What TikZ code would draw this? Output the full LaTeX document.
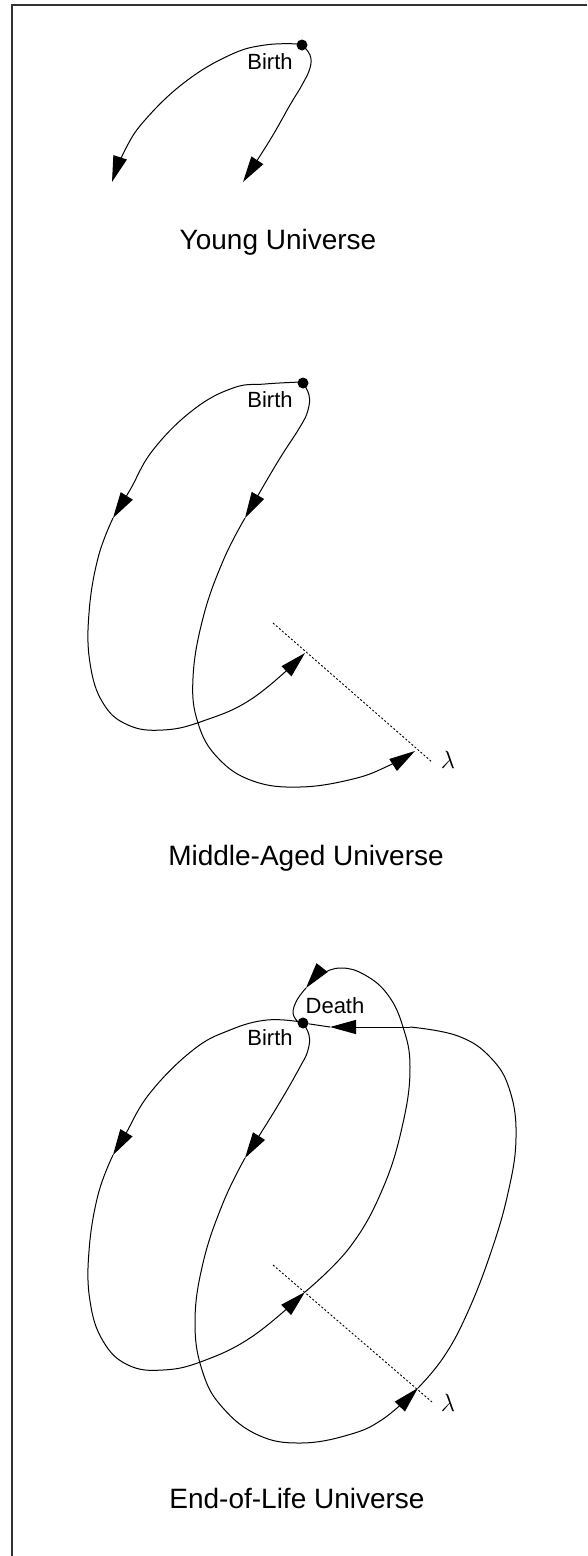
\documentclass[tikz,border=0pt]{standalone}
\usepackage{fontspec}
\setmainfont{Liberation Sans}
\usetikzlibrary{arrows.meta,positioning}

\tikzset{
  orbit/.style={line width=1pt},
  arr/.style={orbit, -{Triangle[length=26pt,width=14pt]}},
  dotpt/.style={circle, fill, inner sep=0pt, minimum size=11pt},
  lbl/.style={font=\fontsize{22}{26}\selectfont},
  title/.style={font=\fontsize{28}{32}\selectfont},
  axis/.style={line width=0.9pt, dash pattern=on 2pt off 2pt}
}

\begin{document}
\begin{tikzpicture}[x=1pt,y=1pt]
  \useasboundingbox (0,0) rectangle (587,-1556);
  % frame
  \draw[line width=2pt, black!80] (12,-1556) -- (12,-5) -- (587,-5);

  % Young universe
  \begin{scope}[shift={(302,-45)}]
    \node[dotpt] (birth1) at (0,0) {};
    \draw[arr] plot[smooth, tension=0.7]
      coordinates{(-2,1) (-37,0) (-72,-10) (-117,-37) (-157,-75) (-177,-105) (-190,-137)};
    \draw[arr] plot[smooth, tension=0.7]
      coordinates{(0,0) (8,-10) (8,-23) (0,-40) (-12,-60) (-32,-95) (-59,-137)};
    \node[lbl] (birthlbl1) at (-32,-17) {Birth};
    \node[title] (young) at (-24,-197) {Young Universe};
  \end{scope}

  % Middle-aged universe
  \begin{scope}[shift={(303,-383)}]
    \node[dotpt] (birth2) at (0,0) {};
    \draw[arr] plot[smooth, tension=0.7]
      coordinates{(-2,1) (-38,-1) (-70,-5) (-110,-27) (-150,-67) (-173,-107) (-190,-135)};
    \draw[arr] plot[smooth, tension=0.7]
      coordinates{(-190,-135) (-205,-175) (-214,-230) (-213,-280) (-200,-320) (-175,-342)
        (-140,-347) (-100,-338) (-50,-315) (2,-270)};
    \draw[arr] plot[smooth, tension=0.7]
      coordinates{(0,0) (6,-12) (5,-27) (-3,-44) (-26,-80) (-58,-135)};
    \draw[arr] plot[smooth, tension=0.7]
      coordinates{(-58,-135) (-80,-178) (-100,-235) (-110,-295) (-105,-340) (-85,-375)
        (-50,-398) (-3,-404) (50,-396) (85,-383) (112,-368)};
    \coordinate (ax2a) at (-30,-240);
    \coordinate (ax2b) at (129,-379);
    \draw[axis] (ax2a) -- (ax2b);
    \node[font=\fontsize{24}{28}\selectfont] (lambda2) at (145,-377) {$\lambda$};
    \node[lbl] (birthlbl2) at (-33,-17) {Birth};
    \node[title] (middle) at (3,-475) {Middle-Aged Universe};
  \end{scope}

  % End-of-life universe
  \begin{scope}[shift={(303,-1023)}]
    \node[dotpt] (birth3) at (0,0) {};
    \draw[arr] plot[smooth, tension=0.7]
      coordinates{(-2,1) (-36,3) (-73,-7) (-110,-27) (-153,-70) (-178,-112) (-190,-132)};
    \draw[arr] plot[smooth, tension=0.7]
      coordinates{(-190,-132) (-205,-172) (-214,-228) (-213,-278) (-200,-318) (-175,-342)
        (-140,-347) (-100,-338) (-50,-313) (2,-269)};
    \draw[arr] plot[smooth, tension=0.7]
      coordinates{(2,-269) (47,-224) (80,-165) (100,-100) (107,-44) (100,-4) (85,28)
        (62,48) (38,55) (17,48) (3,35)};
    \draw[orbit] plot[smooth, tension=0.7]
      coordinates{(3,35) (-6,23) (-10,10) (-5,1)};
    \draw[arr] plot[smooth, tension=0.7]
      coordinates{(0,0) (6,-12) (5,-27) (-3,-44) (-26,-84) (-58,-135)};
    \draw[arr] plot[smooth, tension=0.7]
      coordinates{(-58,-135) (-80,-180) (-100,-240) (-108,-300) (-100,-350) (-80,-385)
        (-45,-412) (-3,-420) (45,-412) (80,-396) (115,-365)};
    \coordinate (death) at (27,-4);
    \draw[orbit] plot[smooth, tension=0.7]
      coordinates{(115,-365) (140,-335) (163,-293) (187,-232) (205,-170) (213,-115)
        (207,-68) (188,-35) (155,-13) (107,-4)};
    \draw[arr] (107,-4) -- (death);
    \draw[orbit] (death) -- (birth3);
    \coordinate (ax3a) at (-30,-242);
    \coordinate (ax3b) at (129,-379);
    \draw[axis] (ax3a) -- (ax3b);
    \node[font=\fontsize{24}{28}\selectfont] (lambda3) at (145,-380) {$\lambda$};
    \node[lbl] (birthlbl3) at (-33,-15) {Birth};
    \node[lbl] (deathlbl) at (32,17) {Death};
    \node[title] (endlife) at (-6,-475) {End-of-Life Universe};
  \end{scope}
\end{tikzpicture}
\end{document}
